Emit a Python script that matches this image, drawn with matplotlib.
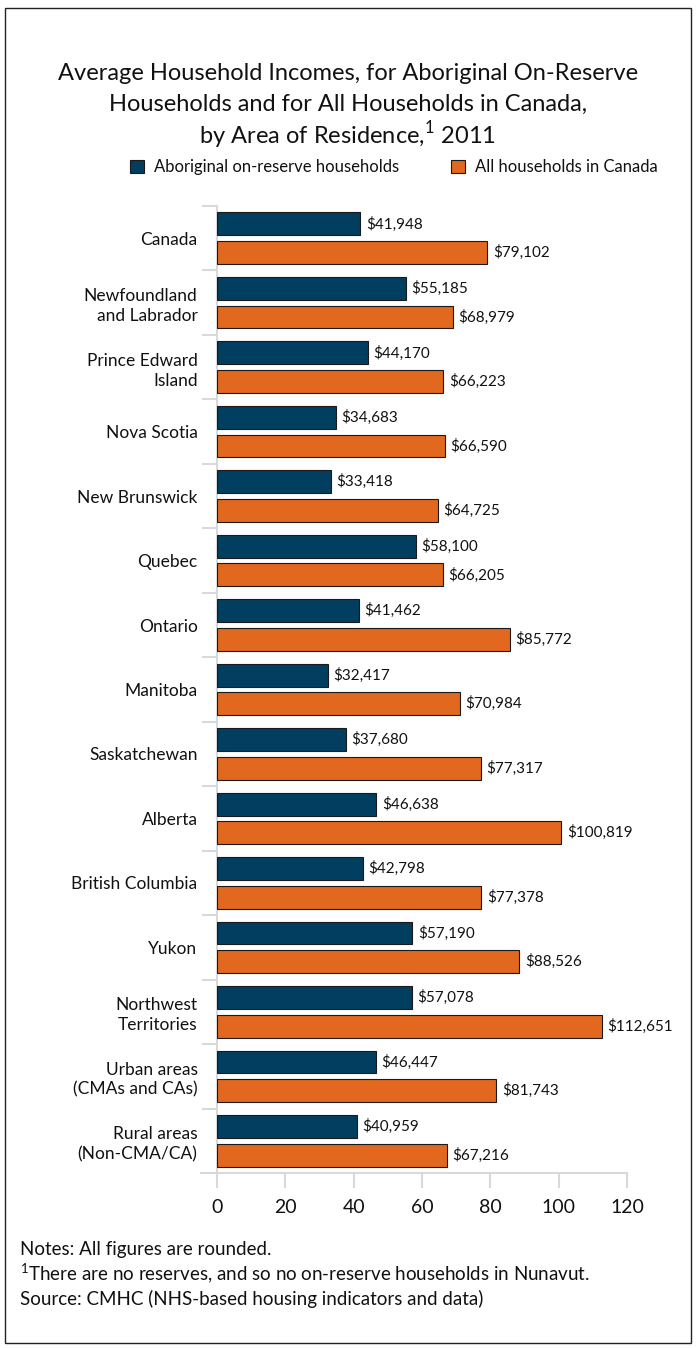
import matplotlib
matplotlib.use("Agg")
import matplotlib.pyplot as plt
from matplotlib.patches import Patch, Rectangle
from matplotlib.lines import Line2D
import numpy as np

plt.rcParams['font.family'] = ['Lato', 'DejaVu Sans']

categories = ["Canada", "Newfoundland\nand Labrador", "Prince Edward\nIsland", "Nova Scotia",
              "New Brunswick", "Quebec", "Ontario", "Manitoba", "Saskatchewan", "Alberta",
              "British Columbia", "Yukon", "Northwest\nTerritories", "Urban areas\n(CMAs and CAs)",
              "Rural areas\n(Non-CMA/CA)"]
aboriginal = [41948, 55185, 44170, 34683, 33418, 58100, 41462, 32417, 37680, 46638,
              42798, 57190, 57078, 46447, 40959]
all_canada = [79102, 68979, 66223, 66590, 64725, 66205, 85772, 70984, 77317, 100819,
              77378, 88526, 112651, 81743, 67216]
xticks = [0, 20, 40, 60, 80, 100, 120]
series_names = ["Aboriginal on-reserve households", "All households in Canada"]

blue = "#023e5f"
orange = "#e2671f"
grid_gray = "#d9d9d9"

W, H = 696, 1348
fig = plt.figure(figsize=(W/100, H/100), dpi=100)
ax = fig.add_axes([217/W, 1 - 1173/H, 410/W, (1173-206)/H])

y = np.arange(len(categories))
bh = 0.355
off = 0.222
a_k = np.array(aboriginal) / 1000
c_k = np.array(all_canada) / 1000
ax.barh(y - off, a_k, height=bh, color=blue, edgecolor="#1a1a1a", linewidth=0.8, zorder=3)
ax.barh(y + off, c_k, height=bh, color=orange, edgecolor="#1a1a1a", linewidth=0.8, zorder=3)

for yi, v, raw in zip(y - off, a_k, aboriginal):
    ax.text(v + 1.6, yi, f"${raw:,}", va="center", ha="left", fontsize=11, color="#111111")
for yi, v, raw in zip(y + off, c_k, all_canada):
    ax.text(v + 1.6, yi, f"${raw:,}", va="center", ha="left", fontsize=11, color="#111111")

ax.set_xlim(0, 120)
ax.set_ylim(len(categories) - 0.5, -0.5)
ax.set_yticks(y)
ax.set_yticklabels(categories, fontsize=12.5, linespacing=1.3, color="#111111")
ax.set_yticks(list(np.arange(len(categories) - 1) + 0.5) + [-0.5], minor=True)
ax.tick_params(axis="y", which="major", length=0, pad=14)
ax.tick_params(axis="y", which="minor", length=10.8, width=1.5, color=grid_gray, direction="out")

ax.set_xticks(xticks)
ax.set_xticklabels([str(t) for t in xticks], fontsize=14, color="#111111")
ax.tick_params(axis="x", length=10.8, width=1.5, color=grid_gray, pad=8)

for s in ["top", "right"]:
    ax.spines[s].set_visible(False)
ax.spines["left"].set_color(grid_gray)
ax.spines["left"].set_linewidth(1.5)
ax.spines["bottom"].set_visible(False)
ax.add_line(Line2D([-16/410, 1.0], [0, 0], transform=ax.transAxes, color=grid_gray,
                   linewidth=1.5, clip_on=False, zorder=2))

# Title
fig.text(0.5, 1 - 73/H, "Average Household Incomes, for Aboriginal On-Reserve", ha="center", va="center",
         fontsize=17, color="#111111")
fig.text(0.5, 1 - 104/H, "Households and for All Households in Canada,", ha="center", va="center",
         fontsize=17, color="#111111")
fig.text(0.5, 1 - 135/H, r"by Area of Residence,$^{\mathregular{1}}$ 2011", ha="center", va="center",
         fontsize=17, color="#111111")

# Legend
handles = [Patch(facecolor=blue, edgecolor="#1a1a1a", linewidth=0.8),
           Patch(facecolor=orange, edgecolor="#1a1a1a", linewidth=0.8)]
fig.legend(handles, series_names, loc="center", bbox_to_anchor=(394/W, 1 - 167/H), ncol=2,
           frameon=False, fontsize=12, handlelength=0.85, handleheight=0.85, handletextpad=0.6,
           columnspacing=3.1, labelcolor="#111111")

# Notes
fig.text(20/W, 1 - 1249/H, "Notes: All figures are rounded.", ha="left", va="center", fontsize=13.5, color="#111111")
fig.text(20/W, 1 - 1274/H, r"$^{\mathregular{1}}$There are no reserves, and so no on-reserve households in Nunavut.",
         ha="left", va="center", fontsize=13.5, color="#111111")
fig.text(20/W, 1 - 1299/H, "Source: CMHC (NHS-based housing indicators and data)", ha="left", va="center",
         fontsize=13.5, color="#111111")

# Border
fig.add_artist(Rectangle((5/W, 1 - 1343/H), 686/W, (1343-8)/H, transform=fig.transFigure,
                         fill=False, edgecolor="#222222", linewidth=1.0))

fig.savefig("out.png", dpi=100)
